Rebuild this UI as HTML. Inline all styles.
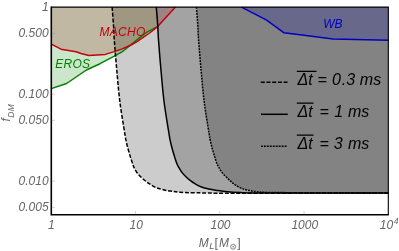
<!DOCTYPE html>
<html><head><meta charset="utf-8"><style>
html,body{margin:0;padding:0;background:#fff;}
svg{display:block;}
text{font-family:"Liberation Sans",sans-serif;font-style:italic;}
</style></head><body>
<svg width="399" height="251" viewBox="0 0 399 251">
<defs><filter id="g" filterUnits="userSpaceOnUse" x="0" y="0" width="399" height="251"><feOffset dx="0" dy="0"/></filter></defs>
<rect width="399" height="251" fill="#fff"/>
<path d="M112.10,7.10 C112.33,10.08 113.13,19.52 113.50,25.00 C113.87,30.48 113.74,32.33 114.30,40.00 C114.86,47.67 115.92,60.67 116.85,71.00 C117.78,81.33 118.59,91.67 119.90,102.00 C121.21,112.33 123.68,126.58 124.70,133.00 C125.72,139.42 125.48,138.00 126.00,140.50 C126.52,143.00 127.13,145.48 127.80,148.00 C128.47,150.52 129.40,153.60 130.00,155.60 C130.60,157.60 130.93,158.55 131.40,160.00 C131.87,161.45 132.40,163.12 132.80,164.30 C133.20,165.48 133.10,165.70 133.80,167.10 C134.50,168.50 135.72,170.95 137.00,172.70 C138.28,174.45 139.98,176.13 141.50,177.60 C143.02,179.07 144.58,180.35 146.10,181.50 C147.62,182.65 148.83,183.44 150.60,184.50 C152.37,185.56 154.43,186.94 156.70,187.85 C158.97,188.76 161.68,189.38 164.20,189.95 C166.72,190.52 169.12,190.85 171.80,191.25 C174.48,191.65 176.38,192.10 180.30,192.35 C184.22,192.60 189.13,192.62 195.30,192.75 C201.47,192.88 201.52,193.08 217.30,193.15 C233.08,193.15 276.22,193.15 290.00,193.15 C300.00,193.12 290.00,193.03 300.00,193.00 C316.38,193.00 373.58,193.00 388.30,193.00 L388.3,7.1 Z" fill="#cccccc"/>
<path d="M156.30,7.10 C156.53,10.08 157.33,19.52 157.70,25.00 C158.07,30.48 157.94,32.33 158.50,40.00 C159.06,47.67 160.12,60.67 161.05,71.00 C161.98,81.33 162.79,91.67 164.10,102.00 C165.41,112.33 167.88,126.58 168.90,133.00 C169.92,139.42 169.68,138.00 170.20,140.50 C170.72,143.00 171.33,145.48 172.00,148.00 C172.67,150.52 173.60,153.60 174.20,155.60 C174.80,157.60 175.13,158.60 175.60,160.00 C176.07,161.40 176.52,162.87 177.00,164.00 C177.48,165.13 177.72,165.45 178.50,166.80 C179.28,168.15 180.42,170.40 181.70,172.10 C182.98,173.80 184.68,175.53 186.20,177.00 C187.72,178.47 189.28,179.75 190.80,180.90 C192.32,182.05 193.53,182.88 195.30,183.90 C197.07,184.92 199.13,186.13 201.40,187.00 C203.67,187.87 206.38,188.53 208.90,189.10 C211.42,189.67 213.82,190.00 216.50,190.40 C219.18,190.80 221.08,191.15 225.00,191.50 C228.92,191.85 233.83,192.27 240.00,192.50 C246.17,192.73 240.00,192.82 262.00,192.90 C286.72,192.98 367.25,192.98 388.30,193.00 L388.3,7.1 Z" fill="#a3a3a3"/>
<path d="M196.40,7.10 C196.63,10.08 197.43,19.52 197.80,25.00 C198.17,30.48 198.04,32.33 198.60,40.00 C199.16,47.67 200.22,60.67 201.15,71.00 C202.08,81.33 202.89,91.67 204.20,102.00 C205.51,112.33 207.98,126.58 209.00,133.00 C210.02,139.42 209.78,138.00 210.30,140.50 C210.82,143.00 211.43,145.48 212.10,148.00 C212.77,150.52 213.70,153.60 214.30,155.60 C214.90,157.60 215.23,158.60 215.70,160.00 C216.17,161.40 216.62,162.87 217.10,164.00 C217.58,165.13 217.82,165.45 218.60,166.80 C219.38,168.15 220.52,170.40 221.80,172.10 C223.08,173.80 224.78,175.46 226.30,177.00 C227.82,178.54 229.38,180.00 230.90,181.34 C232.42,182.67 233.63,183.85 235.40,185.01 C237.17,186.17 239.23,187.40 241.50,188.30 C243.77,189.20 246.48,189.83 249.00,190.40 C251.52,190.97 253.92,191.38 256.60,191.70 C259.28,192.02 261.18,192.21 265.10,192.34 C269.02,192.47 273.93,192.41 280.10,192.50 C286.27,192.59 284.07,192.82 302.10,192.90 C320.13,192.98 373.93,192.98 388.30,193.00 L388.3,7.1 Z" fill="#838383"/>
<path d="M51.30,88.60 L66.60,83.50 L86.40,70.00 L100.00,63.70 L114.30,56.20 L122.00,51.80 L124.50,50.00 L139.40,37.80 L146.40,32.30 L157.90,26.30 L156.4,7.1 L51.3,7.1 Z" fill="rgb(0,128,0)" fill-opacity="0.2"/>
<path d="M51.30,44.20 L61.00,49.20 L76.00,51.80 L81.00,53.50 L88.80,55.40 L105.30,54.40 L114.30,51.60 L121.60,49.10 L126.00,47.30 L131.00,45.00 L137.50,41.40 L141.70,38.40 L150.30,32.50 L157.90,26.30 L175.40,7.10 L51.3,7.1 Z" fill="rgb(145,0,0)" fill-opacity="0.2"/>
<path d="M241.50,7.10 L266.60,20.10 L283.70,32.70 L300.00,34.80 L333.00,39.00 L388.30,40.20 L388.3,7.1 Z" fill="rgb(0,0,170)" fill-opacity="0.2"/>
<path d="M51.30,88.60 L66.60,83.50 L86.40,70.00 L100.00,63.70 L114.30,56.20 L122.00,51.80 L124.50,50.00 L139.40,37.80 L146.40,32.30 L157.90,26.30" fill="none" stroke="rgb(0,128,0)" stroke-width="1.5" stroke-linejoin="round"/>
<path d="M51.30,44.20 L61.00,49.20 L76.00,51.80 L81.00,53.50 L88.80,55.40 L105.30,54.40 L114.30,51.60 L121.60,49.10 L126.00,47.30 L131.00,45.00 L137.50,41.40 L141.70,38.40 L150.30,32.50 L157.90,26.30 L175.40,7.10" fill="none" stroke="rgb(195,0,10)" stroke-width="1.5" stroke-linejoin="round"/>
<path d="M241.50,7.10 L266.60,20.10 L283.70,32.70 L300.00,34.80 L333.00,39.00 L388.30,40.20" fill="none" stroke="rgb(0,0,190)" stroke-width="1.5" stroke-linejoin="round"/>
<path d="M112.10,7.10 C112.33,10.08 113.13,19.52 113.50,25.00 C113.87,30.48 113.74,32.33 114.30,40.00 C114.86,47.67 115.92,60.67 116.85,71.00 C117.78,81.33 118.59,91.67 119.90,102.00 C121.21,112.33 123.68,126.58 124.70,133.00 C125.72,139.42 125.48,138.00 126.00,140.50 C126.52,143.00 127.13,145.48 127.80,148.00 C128.47,150.52 129.40,153.60 130.00,155.60 C130.60,157.60 130.93,158.55 131.40,160.00 C131.87,161.45 132.40,163.12 132.80,164.30 C133.20,165.48 133.10,165.70 133.80,167.10 C134.50,168.50 135.72,170.95 137.00,172.70 C138.28,174.45 139.98,176.13 141.50,177.60 C143.02,179.07 144.58,180.35 146.10,181.50 C147.62,182.65 148.83,183.44 150.60,184.50 C152.37,185.56 154.43,186.94 156.70,187.85 C158.97,188.76 161.68,189.38 164.20,189.95 C166.72,190.52 169.12,190.85 171.80,191.25 C174.48,191.65 176.38,192.10 180.30,192.35 C184.22,192.60 189.13,192.62 195.30,192.75 C201.47,192.88 201.52,193.08 217.30,193.15 C233.08,193.15 276.22,193.15 290.00,193.15 C300.00,193.12 290.00,193.03 300.00,193.00 C316.38,193.00 373.58,193.00 388.30,193.00" fill="none" stroke="#000" stroke-width="1.5" stroke-dasharray="4.0,1.7"/>
<path d="M196.40,7.10 C196.63,10.08 197.43,19.52 197.80,25.00 C198.17,30.48 198.04,32.33 198.60,40.00 C199.16,47.67 200.22,60.67 201.15,71.00 C202.08,81.33 202.89,91.67 204.20,102.00 C205.51,112.33 207.98,126.58 209.00,133.00 C210.02,139.42 209.78,138.00 210.30,140.50 C210.82,143.00 211.43,145.48 212.10,148.00 C212.77,150.52 213.70,153.60 214.30,155.60 C214.90,157.60 215.23,158.60 215.70,160.00 C216.17,161.40 216.62,162.87 217.10,164.00 C217.58,165.13 217.82,165.45 218.60,166.80 C219.38,168.15 220.52,170.40 221.80,172.10 C223.08,173.80 224.78,175.46 226.30,177.00 C227.82,178.54 229.38,180.00 230.90,181.34 C232.42,182.67 233.63,183.85 235.40,185.01 C237.17,186.17 239.23,187.40 241.50,188.30 C243.77,189.20 246.48,189.83 249.00,190.40 C251.52,190.97 253.92,191.38 256.60,191.70 C259.28,192.02 261.18,192.21 265.10,192.34 C269.02,192.47 273.93,192.41 280.10,192.50 C286.27,192.59 284.07,192.82 302.10,192.90 C320.13,192.98 373.93,192.98 388.30,193.00" fill="none" stroke="#000" stroke-width="1.5" stroke-dasharray="1.9,1.05"/>
<path d="M156.30,7.10 C156.53,10.08 157.33,19.52 157.70,25.00 C158.07,30.48 157.94,32.33 158.50,40.00 C159.06,47.67 160.12,60.67 161.05,71.00 C161.98,81.33 162.79,91.67 164.10,102.00 C165.41,112.33 167.88,126.58 168.90,133.00 C169.92,139.42 169.68,138.00 170.20,140.50 C170.72,143.00 171.33,145.48 172.00,148.00 C172.67,150.52 173.60,153.60 174.20,155.60 C174.80,157.60 175.13,158.60 175.60,160.00 C176.07,161.40 176.52,162.87 177.00,164.00 C177.48,165.13 177.72,165.45 178.50,166.80 C179.28,168.15 180.42,170.40 181.70,172.10 C182.98,173.80 184.68,175.53 186.20,177.00 C187.72,178.47 189.28,179.75 190.80,180.90 C192.32,182.05 193.53,182.88 195.30,183.90 C197.07,184.92 199.13,186.13 201.40,187.00 C203.67,187.87 206.38,188.53 208.90,189.10 C211.42,189.67 213.82,190.00 216.50,190.40 C219.18,190.80 221.08,191.15 225.00,191.50 C228.92,191.85 233.83,192.27 240.00,192.50 C246.17,192.73 240.00,192.82 262.00,192.90 C286.72,192.98 367.25,192.98 388.30,193.00" fill="none" stroke="#000" stroke-width="1.5"/>
<path d="M51.3,7.1 H388.3 V214.7" fill="none" stroke="#000" stroke-width="1.1"/>
<path d="M51.3,6.6 V214.7 H388.8" fill="none" stroke="#000" stroke-width="1.6"/>
<g stroke="#666" stroke-width="0.3">
<path d="M51.3,33.3H55 M51.3,94.1H55 M51.3,120.3H55 M51.3,181.1H55 M51.3,207.3H55"/>
<path d="M135.55,214.7V211 M219.8,214.7V211 M304.05,214.7V211"/>
</g>
<g filter="url(#g)">
<g fill="#666" font-size="12" text-anchor="end">
<text x="48.8" y="11.3">1</text>
<text x="48.6" y="37.3">0.500</text>
<text x="48.6" y="98.1">0.100</text>
<text x="48.6" y="124.3">0.050</text>
<text x="48.6" y="185.1">0.010</text>
<text x="48.6" y="211.3">0.005</text>
</g>
<g fill="#666" font-size="12" text-anchor="middle">
<text x="51.3" y="228.6">1</text>
<text x="136.2" y="228.6">10</text>
<text x="220.5" y="228.6">100</text>
<text x="304.8" y="228.6">1000</text>
</g>
<text x="379.8" y="228.6" fill="#666" font-size="12">10<tspan font-size="8.5" dx="0.6" dy="-4.6">4</tspan></text>
<g fill="#666"><text x="198.7" y="247.2" font-size="12">M</text><text x="209.2" y="249.2" font-size="9.5">L</text><text x="214.6" y="247.1" font-size="12.5" style="font-style:normal">[</text><text x="218.9" y="247.2" font-size="12">M</text><circle cx="233.1" cy="246.7" r="2.45" fill="none" stroke="#666" stroke-width="0.8"/><circle cx="233.1" cy="246.7" r="0.75" fill="#666"/><text x="237.2" y="247.1" font-size="12.5" style="font-style:normal">]</text></g>
<text transform="translate(10,121.6) rotate(-90)" fill="#666" font-size="12">f<tspan font-size="8.5" dy="4.4" dx="0.5" letter-spacing="0.4">DM</tspan></text>
<text x="99.5" y="36.4" fill="rgb(195,0,10)" font-size="12" letter-spacing="0.3">MACHO</text>
<text x="55.3" y="67.7" fill="rgb(0,128,0)" font-size="12" letter-spacing="0.25">EROS</text>
<text x="323.2" y="27.7" fill="rgb(0,0,190)" font-size="12">WB</text>
<g stroke="#000" stroke-width="1.5" fill="none">
<path d="M260.8,82.3H287.5" stroke-dasharray="4.0,1.7"/>
<path d="M261,114.3H287.8"/>
<path d="M261,146.2H287.6" stroke-dasharray="1.9,1.05"/>
<path d="M296.8,71.3H316.5 M296.8,103.1H313.5 M296.8,135.1H313.5" stroke-width="1.2"/>
</g>
<g fill="#000" font-size="16">
<text y="85"><tspan x="297.5">Δt</tspan><tspan x="317.6">=</tspan><tspan x="332 341.8 346.2">0.3</tspan><tspan x="359.8">ms</tspan></text>
<text y="117"><tspan x="297.5">Δt</tspan><tspan x="319.6">=</tspan><tspan x="334.3">1</tspan><tspan x="347.9">ms</tspan></text>
<text y="149"><tspan x="297.5">Δt</tspan><tspan x="319.6">=</tspan><tspan x="333.7">3</tspan><tspan x="347.9">ms</tspan></text>
</g>
</g>
</svg>
</body></html>
